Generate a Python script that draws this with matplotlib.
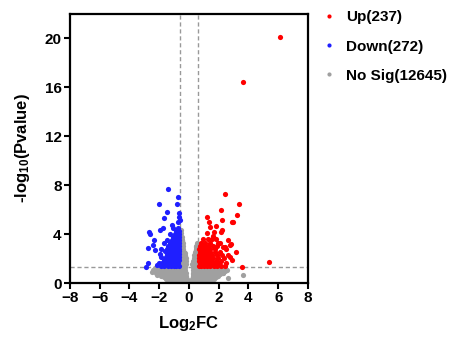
import matplotlib
matplotlib.use('Agg')
import matplotlib.pyplot as plt
from matplotlib.lines import Line2D
import numpy as np

plt.rcParams['font.family'] = ['Liberation Sans', 'DejaVu Sans']
plt.rcParams['font.weight'] = 'bold'
plt.rcParams['mathtext.fontset'] = 'custom'
plt.rcParams['mathtext.rm'] = 'Liberation Sans:bold'
plt.rcParams['mathtext.default'] = 'rm'

# significant up-regulated genes (log2FC, -log10 p)
up_single = [(6.12, 20.1), (3.65, 16.4), (2.42, 7.3), (3.33, 6.5), (3.25, 5.6), (2.13, 5.95),
             (1.19, 5.4), (1.34, 5.02), (2.25, 5.16), (2.86, 5.02), (2.94, 4.97), (1.81, 4.7),
             (1.41, 4.6), (2.2, 4.3), (2.15, 4.15), (1.68, 4.2), (1.19, 4.07), (1.63, 3.85),
             (1.52, 3.58), (2.6, 3.52), (2.76, 3.11), (2.82, 3.2), (1.97, 3.25), (2.3, 2.98),
             (2.42, 2.95), (3.16, 2.55), (2.76, 2.16), (2.9, 1.88), (3.56, 1.34), (5.4, 1.75)]
up_rows = [(1.38, [0.64, 0.84, 1.04, 1.24, 1.44, 1.66, 1.9, 2.15, 2.4]),
           (1.6, [0.72, 0.92, 1.12, 1.32, 1.54, 1.78, 2.05, 2.5]),
           (1.84, [0.64, 0.84, 1.04, 1.26, 1.5, 1.8, 2.12]),
           (2.08, [0.7, 0.9, 1.1, 1.34, 1.6, 1.92, 2.35]),
           (2.32, [0.64, 0.86, 1.06, 1.3, 1.56, 1.86, 2.2, 2.62]),
           (2.56, [0.72, 0.94, 1.18, 1.44, 1.74, 2.06]),
           (2.8, [0.66, 0.9, 1.16, 1.42, 1.72, 2.5]),
           (3.04, [0.74, 0.98, 1.26, 1.6, 1.9]),
           (3.3, [0.8, 1.08, 1.42, 2.1]),
           (3.58, [0.95, 1.25, 1.8])]

# significant down-regulated genes
down_single = [(-1.43, 7.7), (-0.72, 7.0), (-2.0, 6.5), (-0.82, 6.45), (-1.46, 5.8), (-0.65, 5.4),
               (-0.62, 5.15), (-1.65, 5.28), (-1.16, 4.75), (-1.73, 4.48), (-1.92, 4.32),
               (-2.67, 4.15), (-2.6, 4.0), (-2.35, 3.52), (-2.4, 3.11), (-2.74, 2.84), (-2.29, 2.7),
               (-2.18, 1.48), (-2.89, 1.34), (-2.74, 1.61), (-0.7, 5.75), (-0.75, 5.0)]
down_rows = [(1.38, [-0.64, -0.84, -1.04, -1.24, -1.44, -1.66, -1.9]),
             (1.62, [-0.72, -0.92, -1.12, -1.32, -1.54, -1.8, -2.05]),
             (1.86, [-0.64, -0.84, -1.04, -1.24, -1.46, -1.7]),
             (2.1, [-0.7, -0.9, -1.1, -1.3, -1.55, -1.85]),
             (2.34, [-0.64, -0.84, -1.04, -1.24, -1.5, -1.95]),
             (2.58, [-0.7, -0.9, -1.1, -1.34, -1.62]),
             (2.82, [-0.64, -0.84, -1.04, -1.26, -1.5, -1.85]),
             (3.06, [-0.7, -0.9, -1.12, -1.4]),
             (3.3, [-0.64, -0.84, -1.04, -1.3, -1.7]),
             (3.54, [-0.7, -0.92, -1.15, -1.5]),
             (3.78, [-0.64, -0.86, -1.1]),
             (4.02, [-0.7, -0.95, -1.3]),
             (4.26, [-0.64, -0.9]),
             (4.5, [-0.72, -1.05])]

# not significant genes
nosig_single = [(-2.51, 0.93), (-2.18, 0.66), (2.6, 0.38), (2.3, 0.8), (3.62, 0.62)]
nosig_rows = [(0.1, [-1.3, -1.05, -0.8, -0.55, -0.3, -0.1, 0.1, 0.3, 0.55, 0.8, 1.05, 1.3]),
              (0.22, [-1.4, -1.15, -0.9, -0.65, -0.42, -0.2, 0.3, 0.5, 0.75, 1.0, 1.25, 1.5]),
              (0.35, [-1.55, -1.3, -1.05, -0.8, -0.55, -0.32, -0.12, 0.22, 0.42, 0.65, 0.9, 1.15, 1.4, 1.65]),
              (0.48, [-1.7, -1.45, -1.2, -0.95, -0.7, -0.48, -0.26, 0.3, 0.55, 0.8, 1.05, 1.3, 1.55, 1.8]),
              (0.6, [-1.85, -1.6, -1.35, -1.1, -0.85, -0.6, -0.38, -0.18, 0.25, 0.45, 0.7, 0.95, 1.2, 1.45, 1.7, 1.95]),
              (0.72, [-2.0, -1.75, -1.5, -1.25, -1.0, -0.75, -0.5, -0.28, 0.3, 0.58, 0.82, 1.08, 1.34, 1.6,
                      1.85, 2.1]),
              (0.85, [-2.2, -1.95, -1.7, -1.45, -1.2, -0.95, -0.7, -0.45, -0.22, 0.25, 0.48, 0.72, 0.98,
                      1.24, 1.5, 1.76, 2.02, 2.3]),
              (0.97, [-2.3, -2.05, -1.8, -1.55, -1.3, -1.05, -0.8, -0.58, -0.35, 0.32, 0.6, 0.85, 1.1, 1.36,
                      1.62, 1.88, 2.15, 2.42]),
              (1.1, [-2.45, -2.2, -1.95, -1.7, -1.45, -1.2, -0.95, -0.7, -0.5, -0.25, 0.25, 0.5, 0.72,
                     0.98, 1.24, 1.5, 1.76, 2.02, 2.28, 2.55]),
              (1.22, [-2.3, -2.0, -1.7, -1.4, -1.1, -0.8, -0.6, -0.4, 0.35, 0.62, 0.9, 1.2, 1.5, 1.8, 2.1, 2.4]),
              (1.3, [-0.52, -0.3, 0.28, 0.5]),
              (1.42, [-0.44, -0.26, 0.3, 0.45]),
              (1.55, [-0.52, -0.34, -0.18, 0.22, 0.38, 0.52]),
              (1.68, [-0.44, -0.28, 0.35, 0.48]),
              (1.8, [-0.52, -0.36, -0.2, 0.28, 0.42, 0.54]),
              (1.92, [-0.44, -0.3, 0.38, 0.5]),
              (2.05, [-0.5, -0.36, -0.22, 0.32, 0.46]),
              (2.18, [-0.44, -0.3, 0.4]),
              (2.3, [-0.52, -0.38, -0.24, 0.34, 0.5]),
              (2.42, [-0.44, -0.3, 0.44]),
              (2.55, [-0.5, -0.36, 0.38, 0.52]),
              (2.68, [-0.44, 0.46]),
              (2.8, [-0.52, -0.38, 0.44, 0.54]),
              (2.92, [-0.46, 0.5]),
              (3.05, [-0.5, -0.4, 0.5]),
              (3.18, [-0.46]),
              (3.3, [-0.52, -0.42, 0.54]),
              (3.42, [-0.48]),
              (3.55, [-0.5, -0.44]),
              (3.8, [-0.52, -0.46]),
              (4.05, [-0.52]),
              (4.3, [-0.56])]

labels = ['Up(237)', 'Down(272)', 'No Sig(12645)']
colors = ['#ff0000', '#1f1fff', '#a0a0a0']
fc_cut = np.log2(1.5)
p_cut = -np.log10(0.05)


def collect(single, rows):
    pts = list(single)
    for y, xs in rows:
        pts += [(x, y) for x in xs]
    return np.array(pts)


up = collect(up_single, up_rows)
down = collect(down_single, down_rows)
nosig = collect(nosig_single, nosig_rows)

fig = plt.figure(figsize=(4.59, 3.47), dpi=100)
ax = fig.add_axes([0.1525, 0.1844, 0.5185, 0.7753])

ax.scatter(nosig[:, 0], nosig[:, 1], s=14, color=colors[2], linewidths=0, zorder=2)
ax.scatter(up[:, 0], up[:, 1], s=14, color=colors[0], linewidths=0, zorder=3)
ax.scatter(down[:, 0], down[:, 1], s=14, color=colors[1], linewidths=0, zorder=3)

for v in (-fc_cut, fc_cut):
    ax.axvline(v, color='#999999', lw=1, ls=(0, (3, 2)), zorder=1)
ax.axhline(p_cut, color='#999999', lw=1, ls=(0, (3, 2)), zorder=1)

ax.set_xlim(-8, 8)
ax.set_ylim(0, 22)
ax.set_xticks(np.arange(-8, 9, 2))
ax.set_yticks(np.arange(0, 21, 4))
for s in ax.spines.values():
    s.set_linewidth(1.6)
ax.tick_params(direction='out', length=4, width=1.5, labelsize=11, pad=2)
for t in ax.get_xticklabels() + ax.get_yticklabels():
    t.set_fontweight('bold')

ax.set_xlabel('Log$_{2}$FC', fontsize=12, fontweight='bold', labelpad=6)
ax.set_ylabel('-log$_{10}$(Pvalue)', fontsize=12, fontweight='bold', labelpad=9)

handles = [Line2D([], [], ls='', marker='o', ms=3, mec='none', mfc=c) for c in colors]
ax.legend(handles, labels, loc='upper left', bbox_to_anchor=(1.0, 1.065), frameon=False,
          handlelength=1.0, handletextpad=0.6, labelspacing=1.0,
          prop={'weight': 'bold', 'size': 11})

fig.savefig('out.png', dpi=100)
